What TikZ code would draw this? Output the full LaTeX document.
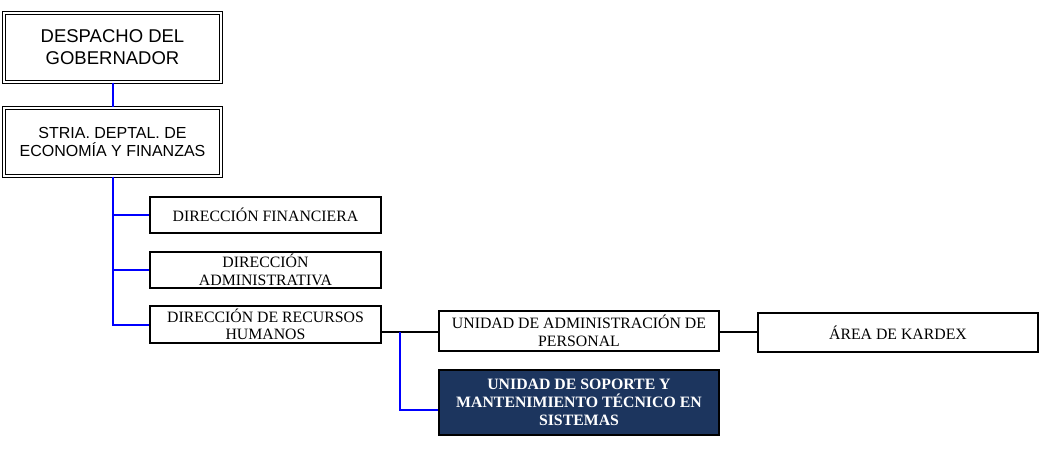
\documentclass[tikz,border=0pt]{standalone}
\usepackage{fontspec}
\setmainfont{Liberation Serif}
\newfontfamily\arialfont{Liberation Sans}
\definecolor{navy}{HTML}{1C355E}
\definecolor{linkblue}{HTML}{0000FF}
\begin{document}
\begin{tikzpicture}[x=1pt,y=-1pt,
  topbox/.style={draw=black, line width=1.2pt, double=white, double distance=2.2pt,
    minimum width=217pt, align=center, inner sep=0pt, font=\arialfont},
  unitbox/.style={draw=black, line width=1.4pt, align=center, inner sep=0pt,
    font=\fontsize{15.8}{17.5}\selectfont},
  darkbox/.style={unitbox, fill=navy, text=white, font=\fontsize{15.8}{18.3}\selectfont\bfseries},
  bluelink/.style={draw=linkblue, line width=2pt},
  blacklink/.style={draw=black, line width=1.5pt}]
\useasboundingbox (0,0) rectangle (1048,452);
\node[topbox, minimum height=69pt, font=\arialfont\fontsize{18.5}{22}\selectfont] (desp) at (112.5,47.5) {DESPACHO DEL\\GOBERNADOR};
\node[topbox, minimum height=68pt, font=\arialfont\fontsize{16}{17.7}\selectfont] (stria) at (112.5,142) {STRIA. DEPTAL. DE\\ECONOMÍA Y FINANZAS};
\node[unitbox, minimum width=231pt, minimum height=36pt] (fin) at (265.5,215) {DIRECCIÓN FINANCIERA};
\node[unitbox, minimum width=231pt, minimum height=36pt] (adm) at (265.5,270) {DIRECCIÓN\\ADMINISTRATIVA};
\node[unitbox, minimum width=231pt, minimum height=37pt] (rrhh) at (265.5,324.5) {DIRECCIÓN DE RECURSOS\\HUMANOS};
\node[unitbox, minimum width=280pt, minimum height=40pt] (ua) at (579,331) {UNIDAD DE ADMINISTRACIÓN DE\\PERSONAL};
\node[darkbox, minimum width=280pt, minimum height=65pt] (sop) at (579,402.5) {UNIDAD DE SOPORTE Y\\MANTENIMIENTO TÉCNICO EN\\SISTEMAS};
\node[unitbox, minimum width=280pt, minimum height=39pt] (kar) at (898,332.5) {ÁREA DE KARDEX};
\coordinate (j) at (400,332);
\draw[bluelink] (desp.south) -- (stria.north);
\draw[bluelink] (stria.south) |- (rrhh.west);
\draw[bluelink] (stria.south |- fin.west) -- (fin.west);
\draw[bluelink] (stria.south |- adm.west) -- (adm.west);
\draw[blacklink] (rrhh.east |- j) -- (ua.west |- j);
\draw[blacklink] (ua.east |- j) -- (kar.west |- j);
\draw[bluelink] (j) |- ([yshift=-7.5pt]sop.west);
\end{tikzpicture}
\end{document}
